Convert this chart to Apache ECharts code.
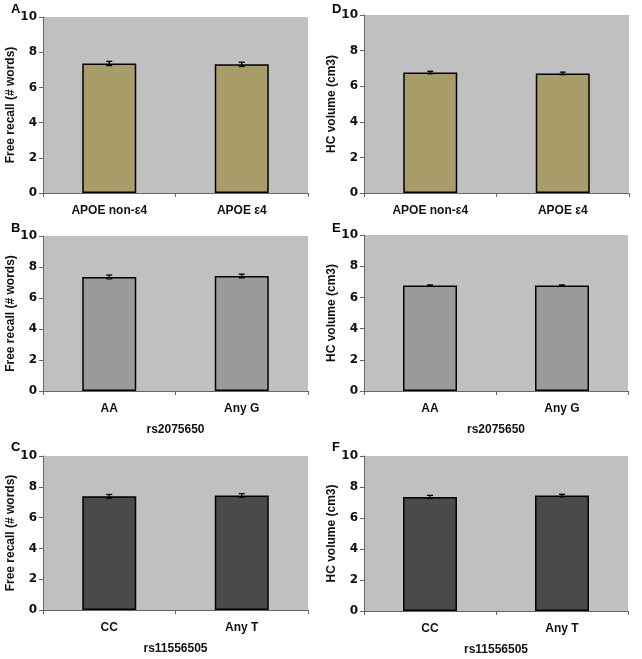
<!DOCTYPE html>
<html>
<head>
<meta charset="utf-8">
<script src="https://cdn.jsdelivr.net/npm/echarts@6/dist/echarts.min.js"></script>
<style>
html,body{margin:0;padding:0;background:#fff;}
#c{width:642px;height:659px;}
</style>
</head>
<body>
<div id="c"></div>
<script>
// ---- data ----
var catsAPOE = ['APOE non-\u03b54', 'APOE \u03b54'];
var catsRs2075650 = ['AA', 'Any G'];
var catsRs11556505 = ['CC', 'Any T'];

var recallAPOE = [7.36, 7.31];
var recallAPOEErr = [0.12, 0.12];
var volumeAPOE = [6.77, 6.72];
var volumeAPOEErr = [0.07, 0.07];

var recallRs2075650 = [7.36, 7.42];
var recallRs2075650Err = [0.12, 0.12];
var volumeRs2075650 = [6.76, 6.76];
var volumeRs2075650Err = [0.04, 0.04];

var recallRs11556505 = [7.38, 7.44];
var recallRs11556505Err = [0.12, 0.12];
var volumeRs11556505 = [7.36, 7.45];
var volumeRs11556505Err = [0.10, 0.08];

var panelLetters = ['A', 'D', 'B', 'E', 'C', 'F'];
var yNames = ['Free recall (# words)', 'HC volume (cm3)'];
var xNames = ['', 'rs2075650', 'rs11556505'];

var colOlive = '#a89c68';
var colMid = '#9a9a9a';
var colDark = '#4a4a4a';

var panels = [
  {cats: catsAPOE, vals: recallAPOE, err: recallAPOEErr, y: yNames[0], x: xNames[0], color: colOlive, grid: {left: 43, top: 17, width: 265, height: 176}},
  {cats: catsAPOE, vals: volumeAPOE, err: volumeAPOEErr, y: yNames[1], x: xNames[0], color: colOlive, grid: {left: 364, top: 15, width: 265, height: 178}},
  {cats: catsRs2075650, vals: recallRs2075650, err: recallRs2075650Err, y: yNames[0], x: xNames[1], color: colMid, grid: {left: 43, top: 236, width: 265, height: 155}},
  {cats: catsRs2075650, vals: volumeRs2075650, err: volumeRs2075650Err, y: yNames[1], x: xNames[1], color: colMid, grid: {left: 364, top: 235, width: 264, height: 156}},
  {cats: catsRs11556505, vals: recallRs11556505, err: recallRs11556505Err, y: yNames[0], x: xNames[2], color: colDark, grid: {left: 43, top: 456, width: 265, height: 154}},
  {cats: catsRs11556505, vals: volumeRs11556505, err: volumeRs11556505Err, y: yNames[1], x: xNames[2], color: colDark, grid: {left: 364, top: 456, width: 264, height: 155}}
];

var FONT = 'Liberation Sans, Arial, sans-serif';
var grids = [], xAxes = [], yAxes = [], series = [], graphics = [];

var letterPos = [[11, 3], [332, 3], [11, 222], [332, 222], [11, 441], [332, 441]];

panels.forEach(function (p, i) {
  grids.push({
    left: p.grid.left, top: p.grid.top, width: p.grid.width, height: p.grid.height,
    show: true, backgroundColor: '#c0c0c0', borderWidth: 0
  });
  xAxes.push({
    type: 'category', gridIndex: i, data: p.cats,
    name: p.x, nameLocation: 'middle', nameGap: 33,
    nameTextStyle: {fontFamily: FONT, fontWeight: 'bold', fontSize: 12, color: '#111'},
    axisLine: {lineStyle: {color: '#666', width: 1}},
    axisTick: {show: true, length: 4, lineStyle: {color: '#666'}},
    axisLabel: {fontFamily: FONT, fontWeight: 'bold', fontSize: 12, color: '#111', margin: 12},
    splitLine: {show: false}
  });
  yAxes.push({
    type: 'value', gridIndex: i, min: 0, max: 10, interval: 2,
    name: p.y, nameLocation: 'middle', nameGap: 24,
    nameTextStyle: {fontFamily: FONT, fontWeight: 'bold', fontSize: 12, color: '#111'},
    axisLine: {show: true, lineStyle: {color: '#666', width: 1}},
    axisTick: {show: true, length: 4, lineStyle: {color: '#666'}},
    axisLabel: {fontFamily: 'DejaVu Sans, sans-serif', fontWeight: 'bold', fontSize: 12, color: '#111', margin: 6},
    splitLine: {show: false}
  });
  series.push({
    type: 'bar', xAxisIndex: i, yAxisIndex: i, data: p.vals, barWidth: 54,
    itemStyle: {color: p.color, borderColor: '#000', borderWidth: 1.5},
    silent: true
  });
  var errData = p.vals.map(function (v, k) { return [k, v - p.err[k], v + p.err[k]]; });
  series.push({
    type: 'custom', xAxisIndex: i, yAxisIndex: i, data: errData, silent: true, z: 10,
    renderItem: function (params, api) {
      var lo = api.coord([api.value(0), api.value(1)]);
      var hi = api.coord([api.value(0), api.value(2)]);
      var w = 3;
      var st = {stroke: '#000', lineWidth: 1.3};
      return {type: 'group', children: [
        {type: 'line', shape: {x1: lo[0], y1: lo[1], x2: hi[0], y2: hi[1]}, style: st},
        {type: 'line', shape: {x1: lo[0] - w, y1: lo[1], x2: lo[0] + w, y2: lo[1]}, style: st},
        {type: 'line', shape: {x1: hi[0] - w, y1: hi[1], x2: hi[0] + w, y2: hi[1]}, style: st}
      ]};
    }
  });
  graphics.push({
    type: 'text', left: letterPos[i][0], top: letterPos[i][1],
    style: {text: panelLetters[i], fontFamily: FONT, fontWeight: 'bold', fontSize: 13, fill: '#000'}
  });
});

var chart = echarts.init(document.getElementById('c'));
chart.setOption({
  backgroundColor: '#fff',
  animation: false,
  grid: grids, xAxis: xAxes, yAxis: yAxes, series: series, graphic: graphics
});
</script>
</body>
</html>
